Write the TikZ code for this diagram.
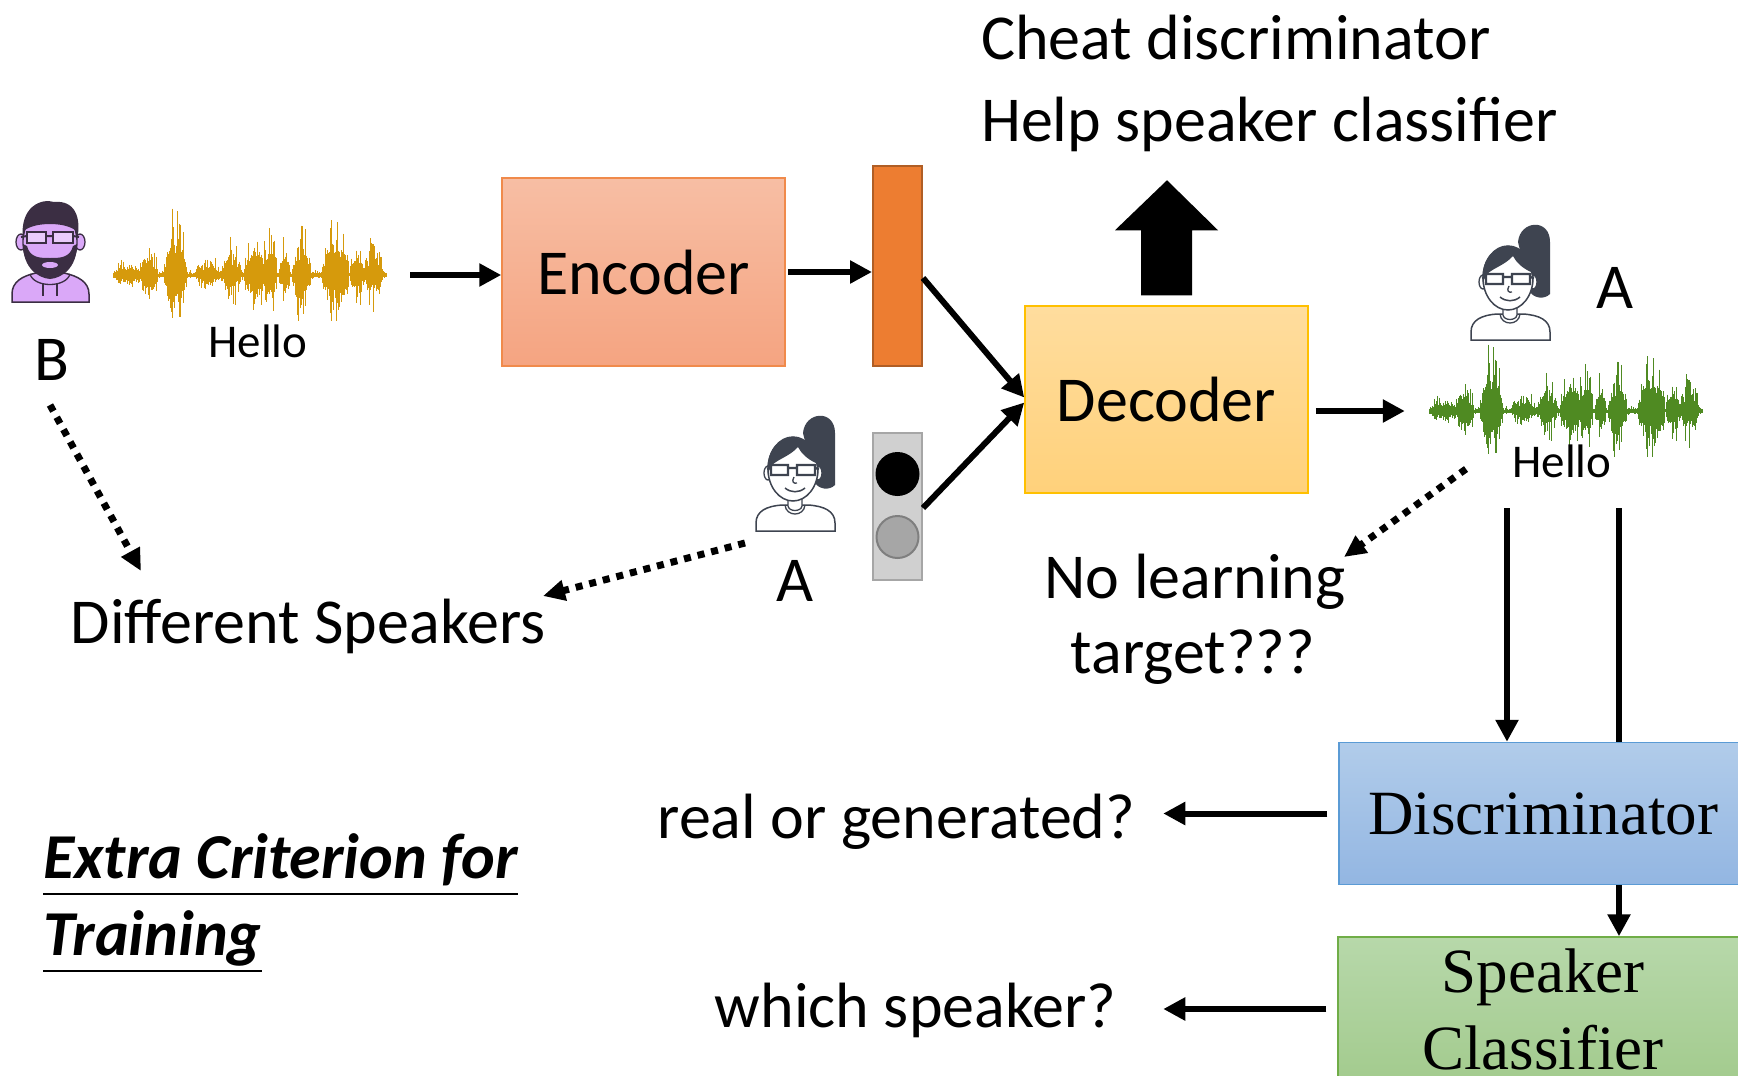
\documentclass[tikz,border=0pt]{standalone}
\usepackage{fontspec}
\setmainfont{Carlito}
\newfontfamily\timesfont{Liberation Serif}
\usepackage{xcolor}
\definecolor{wavegold}{HTML}{D69A0C}
\definecolor{wavegreen}{HTML}{4F8A22}
\definecolor{encA}{HTML}{F7BEA4}
\definecolor{encB}{HTML}{F5A481}
\definecolor{encline}{HTML}{F08A4B}
\definecolor{decA}{HTML}{FFDD9E}
\definecolor{decB}{HTML}{FFD17B}
\definecolor{decline}{HTML}{FFC000}
\definecolor{codeorange}{HTML}{ED7D31}
\definecolor{codeline}{HTML}{B05E25}
\definecolor{spkgray}{HTML}{D0D0D0}
\definecolor{spkline}{HTML}{A6A6A6}
\definecolor{dotgray}{HTML}{A6A6A6}
\definecolor{dotline}{HTML}{7F7F7F}
\definecolor{discA}{HTML}{B1CCEA}
\definecolor{discB}{HTML}{93B6E2}
\definecolor{discline}{HTML}{5B9BD5}
\definecolor{clsA}{HTML}{B7D8AA}
\definecolor{clsB}{HTML}{A3CB8E}
\definecolor{clsline}{HTML}{70AD47}
\definecolor{avpurple}{HTML}{DAA8F8}
\definecolor{avdark}{HTML}{3B2E43}
\definecolor{avgray}{HTML}{3E4450}
\usepackage{tikz}
\usetikzlibrary{arrows.meta,positioning,calc}

\tikzset{
  lbl/.style={font=\fontsize{64}{76}\selectfont, inner sep=0pt},
  small/.style={font=\fontsize{47}{56}\selectfont, inner sep=0pt},
  box/.style={line width=1.5pt, inner sep=0pt},
  arr/.style={-{Triangle[length=22pt,width=22pt]}, line width=6pt},
  dotarr/.style={-{Triangle[length=22pt,width=20pt]}, line width=7pt, dash pattern=on 7pt off 7pt},
  pics/wave/.style={code={
    \pgfmathsetseed{11}
    \foreach \i in {0,...,273}{
      \pgfmathsetmacro\env{6+16*bump(\i,14,14)+38*bump(\i,35,10)+72*bump(\i,62,12)+18*bump(\i,95,14)+40*bump(\i,118,10)+50*bump(\i,142,12)+72*bump(\i,157,7)+38*bump(\i,171,6)+60*bump(\i,188,10)+72*bump(\i,222,14)+38*bump(\i,244,8)+44*bump(\i,260,10)}
      \pgfmathsetmacro\ra{rnd}
      \pgfmathsetmacro\rb{rnd}
      \pgfmathsetmacro\rc{rnd}
      \pgfmathsetmacro\up{\env*(0.22+0.25*\ra+0.53*\rc*\rc*\rc)}
      \pgfmathsetmacro\dn{0.85*\env*(0.22+0.3*\rb+0.48*\ra*\ra*\ra)}
      \draw[#1, line width=1.3pt] (\i,-\up) -- (\i,\dn);
    }
  }},
  pics/hoodie/.style={code={
    \filldraw[fill=avpurple, draw=avdark, line width=1.5pt] (-38,50) -- (-38,42) .. controls (-38,30) and (-28,24) .. (-14,21) -- (14,21) .. controls (28,24) and (39,30) .. (39,42) -- (39,50) -- cycle; % Schultern
    \draw[avdark, line width=1.3pt] (-20,22) .. controls (-16,36) and (16,36) .. (20,22);              % Kapuze
    \draw[avdark, line width=1.3pt] (-7,31) -- (-7,44) (7,31) -- (7,44);                              % Kordeln
    \filldraw[fill=avpurple, draw=avdark, line width=1.3pt] (-29,-10) ellipse (5 and 8) (30,-10) ellipse (5 and 8); % Ohren
    \filldraw[fill=avpurple, draw=avdark, line width=1.3pt] (0,-10) ellipse (27 and 34);             % Gesicht
    \fill[avdark] (-27,-12) .. controls (-31,-46) and (-8,-54) .. (4,-50) .. controls (24,-52) and (32,-36) .. (27,-12) -- (25,-22) .. controls (14,-30) and (-14,-30) .. (-25,-22) -- cycle; % Haare
    \fill[avdark] (-27,-8) .. controls (-27,16) and (-12,26) .. (0,27) .. controls (12,26) and (27,16) .. (27,-8) -- (23,-6) .. controls (20,6) and (10,6) .. (0,6) .. controls (-10,6) and (-20,6) .. (-23,-6) -- cycle; % Bart
    \fill[avpurple] (0,13) ellipse (8 and 3);                                                        % Mund
    \filldraw[fill=avpurple!60!white, draw=avdark, line width=2.2pt] (-23,-20) rectangle (-4,-9) (3,-20) rectangle (23,-9); % Brille
    \draw[avdark, line width=2pt] (-4,-16) -- (3,-16) (-23,-16) -- (-29,-15) (23,-16) -- (29,-15);
  }},
  pics/ponytail/.style={code={
    \fill[avgray] (8,-40) .. controls (10,-62) and (40,-64) .. (40,-40) -- (40,12) .. controls (34,18) and (24,16) .. (20,10) -- cycle; % Zopf
    \filldraw[fill=white, draw=avgray, line width=1.5pt] (-39,58) -- (-39,50) .. controls (-39,38) and (-28,33) .. (-13,32) -- (13,32) .. controls (29,33) and (40,38) .. (40,50) -- (40,58) -- cycle; % Schultern
    \filldraw[fill=white, draw=avgray, line width=1.3pt] (-7,22) -- (-7,33) .. controls (-6,39) and (6,39) .. (7,33) -- (7,22); % Hals
    \draw[avgray, line width=1.3pt] (-10,32) .. controls (-9,44) and (9,44) .. (10,32);              % Kragen
    \filldraw[fill=white, draw=avgray, line width=1.3pt] (-27,0) ellipse (4 and 7) (23,0) ellipse (4 and 7); % Ohren
    \filldraw[fill=white, draw=avgray, line width=1.5pt] (-2,-4) ellipse (25 and 32);               % Gesicht
    \fill[avgray] (-27,2) .. controls (-33,-46) and (27,-50) .. (23,2) -- (21,-10) .. controls (12,-14) and (6,-20) .. (3,-26) .. controls (-6,-16) and (-18,-14) .. (-25,-6) -- cycle; % Haare
    \draw[avgray, line width=2.2pt] (-24,-8) rectangle (-7,2) (2,-8) rectangle (20,2) (-7,-5) -- (2,-5) (-24,-5) -- (-28,-4) (20,-5) -- (24,-4); % Brille
    \draw[avgray, line width=1.3pt] (-1,4) .. controls (-4,9) and (-1,11) .. (2,10);                 % Nase
    \draw[avgray, line width=1.5pt] (-10,15) .. controls (-4,20) and (4,20) .. (10,15);               % Mund
  }},
}

\begin{document}
\begin{tikzpicture}[x=1pt, y=-1pt, declare function={bump(\xx,\mm,\ww)=max(0,1-((\xx-\mm)/\ww)*((\xx-\mm)/\ww));}]
        \useasboundingbox[fill=white] (0,0) rectangle (1738,1076);             % Umgebung
        \clip (0,0) rectangle (1738,1076);

        % Sprecher B und Eingangssignal
        \node[minimum width=77pt, minimum height=101pt, inner sep=0] (spkB) at (50,252) {};
        \pic at (spkB.center) {hoodie};
        \node[lbl, anchor=base] (lblB) at (52,380) {B};
        \node[minimum width=274pt, minimum height=150pt, inner sep=0] (waveB) at (251,275) {};
        \pic at (waveB.west) {wave=wavegold};
        \node[small, anchor=base] (helloB) at (258,357) {Hello};

        % Encoder und Code
        \node[box, draw=encline, top color=encA, bottom color=encB, minimum width=283pt, minimum height=188pt, lbl] (enc) at (643.5,272) {Encoder};
        \node[draw=codeline, fill=codeorange, line width=2pt, minimum width=49pt, minimum height=200pt, inner sep=0] (code) at (897.5,266) {};

        % Sprecher A mit Auswahl
        \node[minimum width=79pt, minimum height=117pt, inner sep=0] (spkA) at (795,473) {};
        \pic at (spkA.center) {ponytail};
        \node[lbl, anchor=base] (lblA) at (795,601) {A};
        \node[draw=spkline, fill=spkgray, line width=2pt, minimum width=49pt, minimum height=147pt, inner sep=0] (spk) at (897.5,506.5) {};
        \node[circle, fill=black, minimum size=44pt, inner sep=0] (on) at ([yshift=32.5pt]spk.center) {};
        \node[circle, fill=dotgray, draw=dotline, line width=2pt, minimum size=42pt, inner sep=0] (off) at ([yshift=-30.5pt]spk.center) {};

        % Decoder
        \node[box, draw=decline, top color=decA, bottom color=decB, minimum width=283pt, minimum height=187pt, lbl] (dec) at (1166.5,399.5) {Decoder};
        \fill ($(dec.north)+(-25.5,-10)$) -- ++(0,-65) -- ++(-26,0) -- ++(52,-50) -- ++(51,50) -- ++(-26,0) -- ++(0,65) -- cycle; % Blockpfeil
        \node[lbl, anchor=base west] (cheat) at (981,59) {Cheat discriminator};
        \node[lbl, anchor=base west] (help) at (981,141) {Help speaker classifier};

        % Ausgabe
        \node[minimum width=79pt, minimum height=117pt, inner sep=0] (spkA2) at (1510,282) {};
        \pic at (spkA2.center) {ponytail};
        \node[lbl, anchor=base] (lblA2) at (1615,308) {A};
        \node[minimum width=273pt, minimum height=150pt, inner sep=0] (waveA) at (1566.5,411) {};
        \pic at (waveA.west) {wave=wavegreen};
        \node[small, anchor=base] (helloA) at (1562,477) {Hello};

        % Beschriftungen
        \node[lbl, anchor=base] (diff) at (308,643) {Different Speakers};
        \node[lbl, anchor=base] (nolearn) at (1195,598) {No learning};
        \node[lbl, anchor=base] (target) at (1193,673) {target???};

        % Pfeile
        \draw[arr] ($(waveB.east)+(22,0)$) -- (enc.west |- waveB.east);
        \draw[arr, shorten <=2pt] (enc.east) -- (code.west |- enc.east);
        \draw[arr] ([yshift=-12pt]code.east) -- ([yshift=2pt]dec.west);
        \draw[arr] ([yshift=-1.5pt]spk.east) -- ([yshift=-3pt]dec.west);
        \draw[arr] ($(dec.east |- waveA.west)+(7,0)$) -- ($(waveA.west)+(-25,0)$);
        \draw[dotarr] ($(lblB.base)+(-2,25)$) -- ($(diff.base)+(-167,-72)$);
        \draw[dotarr] ($(spkA.center)+(-50,70)$) -- ($(diff.base)+(235,-47)$);
        \draw[dotarr] ($(waveA.center)+(-100.5,58)$) -- ($(nolearn.base)+(149,-41)$);

        % Diskriminator und Klassifikator
        \coordinate (dL) at ($(waveA.south)+(-59.5,22)$);
        \coordinate (dR) at ($(waveA.south)+(52.5,22)$);
        \node[box, draw=clsline, top color=clsA, bottom color=clsB, minimum width=410pt, minimum height=144pt, align=center, font=\timesfont\fontsize{63}{77}\selectfont] (cls) at (1543,1009) {Speaker\\Classifier};
        \draw[arr] (dR) -- (dR |- cls.north);
        \node[box, draw=discline, top color=discA, bottom color=discB, minimum width=408pt, minimum height=142pt, font=\timesfont\fontsize{63}{75}\selectfont] (disc) at (1543,813.5) {Discriminator};
        \draw[arr] (dL) -- (dL |- disc.north);
        \node[lbl, left=203pt of disc, yshift=-8pt] (real) {real or generated?};
        \node[lbl, left=221pt of cls, yshift=-1pt] (which) {which speaker?};
        \draw[arr] ([xshift=-11pt]disc.west) -- ($(disc.west -| real.east)+(28,0)$);
        \draw[arr] ([xshift=-11pt]cls.west) -- ($(cls.west -| which.east)+(47,0)$);

        % Zusatzkriterium
        \node[anchor=base west, inner sep=0, font=\fontsize{64}{76}\selectfont\bfseries\itshape] (crit1) at (43,878) {Extra Criterion for};
        \node[anchor=base west, inner sep=0, font=\fontsize{64}{76}\selectfont\bfseries\itshape] (crit2) at (43,955) {Training};
        \draw[line width=2.5pt] ($(crit1.base west)+(0,16)$) -- ($(crit1.base east)+(0,16)$); % Unterstreichung
        \draw[line width=2.5pt] ($(crit2.base west)+(0,16)$) -- ($(crit2.base east)+(0,16)$);
\end{tikzpicture}
\end{document}
